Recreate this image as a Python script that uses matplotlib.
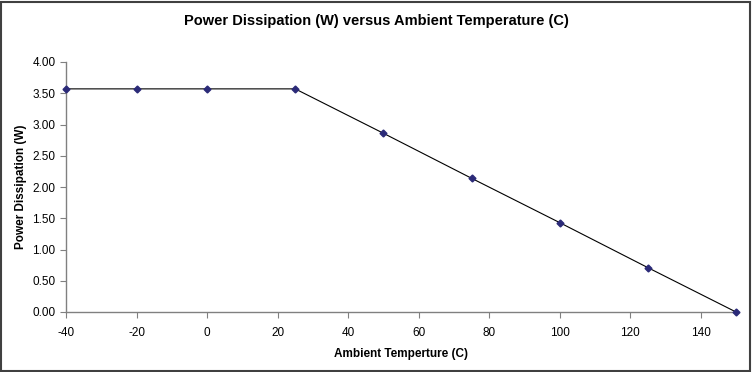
import matplotlib
matplotlib.use('Agg')
import matplotlib.pyplot as plt
from matplotlib.patches import Rectangle

# data
temps = [-40, -20, 0, 25, 50, 75, 100, 125, 150]
power = [3.57, 3.57, 3.57, 3.57, 2.86, 2.14, 1.43, 0.71, 0.0]
x_ticks = [-40, -20, 0, 20, 40, 60, 80, 100, 120, 140]
y_ticks = [0.0, 0.5, 1.0, 1.5, 2.0, 2.5, 3.0, 3.5, 4.0]

plt.rcParams['font.family'] = ['Liberation Sans', 'DejaVu Sans']
plt.rcParams['axes.unicode_minus'] = False

fig = plt.figure(figsize=(7.52, 3.72), dpi=100)
ax = fig.add_axes([66 / 752, 1 - 312 / 372, 670 / 752, 250 / 372])

ax.plot(temps, power, color='black', linewidth=0.8, marker='D', markersize=3.5,
        markerfacecolor='#2b2a78', markeredgecolor='#2b2a78', clip_on=False, zorder=3)

ax.set_xlim(-40, 150)
ax.set_ylim(0, 4.0)
ax.set_xticks(x_ticks)
ax.set_yticks(y_ticks)
ax.set_yticklabels(['%.2f' % v for v in y_ticks])

for side in ['top', 'right']:
    ax.spines[side].set_visible(False)
for side in ['left', 'bottom']:
    ax.spines[side].set_color('#808080')
    ax.spines[side].set_linewidth(1.0)
ax.tick_params(axis='both', direction='out', length=4, width=0.8, color='#808080',
               labelsize=8.5, labelcolor='black')
ax.tick_params(axis='x', pad=7)

ax.set_xlabel('Ambient Temperture (C)', fontsize=8.5, fontweight='bold', labelpad=6)
ax.set_ylabel('Power Dissipation (W)', fontsize=8.5, fontweight='bold', labelpad=4)
fig.text(376 / 752, 1 - 21 / 372, 'Power Dissipation (W) versus Ambient Temperature (C)',
         ha='center', va='center', fontsize=10.5, fontweight='bold')

# border round the whole chart
fig.patches.append(Rectangle((0.5 / 752, 1.5 / 372), 749 / 752, 369 / 372,
                             transform=fig.transFigure, fill=False,
                             edgecolor='#404040', linewidth=1.5))

fig.savefig('out.png', dpi=100)
